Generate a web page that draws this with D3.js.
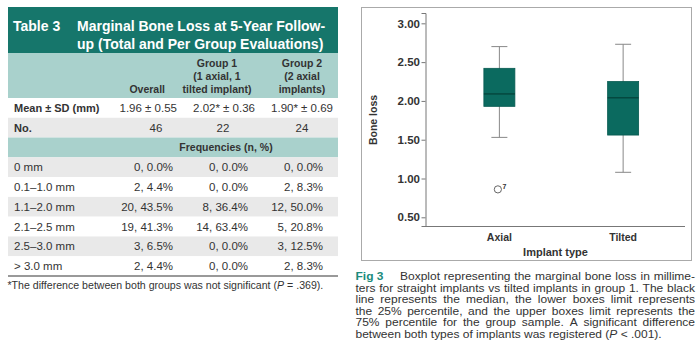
<!DOCTYPE html>
<html>
<head>
<meta charset="utf-8">
<script src="https://cdn.jsdelivr.net/npm/d3@7"></script>
<style>
  body { margin: 0; background: #fff; }
  svg { display: block; font-family: "Liberation Sans", Arial, sans-serif; }
</style>
</head>
<body>
<div id="chart"></div>
<script>
// ---- table data ----
const groupHeaders = [["Overall"], ["Group 1", "(1 axial, 1", "tilted implant)"], ["Group 2", "(2 axial", "implants)"]];
const meanSD = ["1.96 ± 0.55", "2.02* ± 0.36", "1.90* ± 0.69"];
const counts = ["46", "22", "24"];
const freqLabels = ["0 mm", "0.1–1.0 mm", "1.1–2.0 mm", "2.1–2.5 mm", "2.5–3.0 mm", "> 3.0 mm"];
const freqOverall = ["0, 0.0%", "2, 4.4%", "20, 43.5%", "19, 41.3%", "3, 6.5%", "2, 4.4%"];
const freqGroup1 = ["0, 0.0%", "0, 0.0%", "8, 36.4%", "14, 63.4%", "0, 0.0%", "0, 0.0%"];
const freqGroup2 = ["0, 0.0%", "2, 8.3%", "12, 50.0%", "5, 20.8%", "3, 12.5%", "2, 8.3%"];

// ---- boxplot data ----
const implantTypes = ["Axial", "Tilted"];
const whiskerLow = [1.53, 1.08];
const q1 = [1.93, 1.56];
const medians = [2.09, 2.04];
const q3 = [2.42, 2.25];
const whiskerHigh = [2.70, 2.73];
const outliers = [{ type: "Axial", value: 0.86, label: "7" }];
const yTicks = [0.5, 1.0, 1.5, 2.0, 2.5, 3.0];

const DARK_TEAL = "#16766b";
const LIGHT_TEAL = "#a9d1cc";
const GRAY_ROW = "#e9e9e9";
const BOX_FILL = "#0b6a5f";
const TEXT = "#333";

const svg = d3.select("#chart").append("svg")
    .attr("width", 700)
    .attr("height", 358);

// ================= TABLE =================
const T_LEFT = 8, T_RIGHT = 338;
const table = svg.append("g");

table.append("rect")
    .attr("x", T_LEFT).attr("y", 7)
    .attr("width", T_RIGHT - T_LEFT).attr("height", 46)
    .attr("fill", DARK_TEAL);

table.append("text")
    .attr("x", 13).attr("y", 31)
    .attr("fill", "#fff").attr("font-weight", "bold").attr("font-size", "14px")
    .text("Table 3");
table.append("text")
    .attr("x", 77).attr("y", 31)
    .attr("fill", "#fff").attr("font-weight", "bold").attr("font-size", "14px")
    .text("Marginal Bone Loss at 5-Year Follow-");
table.append("text")
    .attr("x", 77).attr("y", 49)
    .attr("fill", "#fff").attr("font-weight", "bold").attr("font-size", "14px")
    .text("up (Total and Per Group Evaluations)");

table.append("rect")
    .attr("x", T_LEFT).attr("y", 53)
    .attr("width", T_RIGHT - T_LEFT).attr("height", 45)
    .attr("fill", LIGHT_TEAL);

const headerX = [165, 217, 302];
const headerAnchor = ["end", "middle", "middle"];
groupHeaders.forEach((lines, c) => {
    const offset = 3 - lines.length;
    lines.forEach((ln, k) => {
        table.append("text")
            .attr("x", headerX[c])
            .attr("y", 66.5 + (k + offset) * 13.3)
            .attr("text-anchor", headerAnchor[c])
            .attr("font-weight", "bold").attr("font-size", "10.5px")
            .attr("fill", TEXT)
            .text(ln);
    });
});

const rowKeys = ["mean", "no", "freq"].concat(freqLabels);
const rowScale = d3.scaleBand().domain(rowKeys).range([98, 276]);
const rowFill = {
    "mean": "#fff", "no": GRAY_ROW, "freq": LIGHT_TEAL,
    "0 mm": GRAY_ROW, "0.1–1.0 mm": "#fff", "1.1–2.0 mm": GRAY_ROW,
    "2.1–2.5 mm": "#fff", "2.5–3.0 mm": GRAY_ROW, "> 3.0 mm": "#fff"
};

table.selectAll("rect.row")
    .data(rowKeys)
    .enter()
    .append("rect")
    .attr("class", "row")
    .attr("x", T_LEFT)
    .attr("y", d => rowScale(d))
    .attr("width", T_RIGHT - T_LEFT)
    .attr("height", rowScale.bandwidth())
    .attr("fill", d => rowFill[d]);

const baseY = d => rowScale(d) + rowScale.bandwidth() / 2 + 4;

// mean row
table.append("text")
    .attr("x", 14).attr("y", baseY("mean"))
    .attr("font-weight", "bold").attr("font-size", "11px").attr("fill", TEXT)
    .text("Mean ± SD (mm)");
const meanX = [177, 255, 333];
meanSD.forEach((v, c) => {
    table.append("text")
        .attr("x", meanX[c]).attr("y", baseY("mean"))
        .attr("text-anchor", "end").attr("font-size", "11.5px").attr("fill", TEXT)
        .text(v);
});

// No. row
table.append("text")
    .attr("x", 14).attr("y", baseY("no"))
    .attr("font-weight", "bold").attr("font-size", "11px").attr("fill", TEXT)
    .text("No.");
const countX = [156, 223, 302];
counts.forEach((v, c) => {
    table.append("text")
        .attr("x", countX[c]).attr("y", baseY("no"))
        .attr("text-anchor", "middle").attr("font-size", "11.5px").attr("fill", TEXT)
        .text(v);
});

// Frequencies header
table.append("text")
    .attr("x", 226).attr("y", baseY("freq"))
    .attr("text-anchor", "middle")
    .attr("font-weight", "bold").attr("font-size", "10.5px").attr("fill", TEXT)
    .text("Frequencies (n, %)");

const freqX = [173, 248, 323];
const freqCols = [freqOverall, freqGroup1, freqGroup2];
freqLabels.forEach((lab, r) => {
    table.append("text")
        .attr("x", 14).attr("y", baseY(lab))
        .attr("font-size", "11.5px").attr("fill", TEXT)
        .text(lab);
    freqCols.forEach((col, c) => {
        table.append("text")
            .attr("x", freqX[c]).attr("y", baseY(lab))
            .attr("text-anchor", "end").attr("font-size", "11.5px").attr("fill", TEXT)
            .text(col[r]);
    });
});

table.append("line")
    .attr("x1", T_LEFT).attr("x2", T_RIGHT)
    .attr("y1", 276).attr("y2", 276)
    .attr("stroke", "#999").attr("stroke-width", 2);

const foot = table.append("text")
    .attr("x", 7.5).attr("y", 289)
    .attr("font-size", "10.6px").attr("fill", TEXT);
foot.append("tspan").text("*The difference between both groups was not significant (");
foot.append("tspan").attr("font-style", "italic").text("P");
foot.append("tspan").text(" = .369).");

// ================= BOXPLOT =================
svg.append("rect")
    .attr("x", 361.5).attr("y", 7.5)
    .attr("width", 330).attr("height", 253)
    .attr("fill", "none").attr("stroke", "#aaa");

const Y_SCALE = d3.scaleLinear()
    .domain([0.388, 3.133])
    .range([226, 13]);
const X_SCALE = d3.scalePoint()
    .domain(implantTypes)
    .range([437.5, 685])
    .padding(0.5);

const yAxis = d3.axisLeft(Y_SCALE)
    .tickValues(yTicks)
    .tickFormat(d3.format(".2f"))
    .tickSizeOuter(0)
    .tickSize(4)
    .tickPadding(1.5);

const yG = svg.append("g")
    .attr("transform", "translate(425.5,0)")
    .call(yAxis);
yG.select(".domain").attr("stroke", "#777");
yG.selectAll(".tick line").attr("stroke", "#777");
yG.selectAll(".tick text")
    .attr("font-family", "Liberation Sans, Arial, sans-serif")
    .attr("font-size", "11.5px").attr("font-weight", "bold").attr("fill", TEXT);

svg.append("line")
    .attr("x1", 425.5).attr("x2", 685)
    .attr("y1", Y_SCALE(0.388) + 0.5).attr("y2", Y_SCALE(0.388) + 0.5)
    .attr("stroke", "#777");

const BOX_W = 31, CAP_W = 16;
const boxes = svg.append("g");
implantTypes.forEach((t, i) => {
    const cx = X_SCALE(t);
    boxes.append("line")
        .attr("x1", cx).attr("x2", cx)
        .attr("y1", Y_SCALE(whiskerHigh[i])).attr("y2", Y_SCALE(whiskerLow[i]))
        .attr("stroke", "#888");
    [whiskerHigh[i], whiskerLow[i]].forEach(v => {
        boxes.append("line")
            .attr("x1", cx - CAP_W / 2).attr("x2", cx + CAP_W / 2)
            .attr("y1", Y_SCALE(v)).attr("y2", Y_SCALE(v))
            .attr("stroke", "#888");
    });
    boxes.append("rect")
        .attr("x", cx - BOX_W / 2)
        .attr("y", Y_SCALE(q3[i]))
        .attr("width", BOX_W)
        .attr("height", Y_SCALE(q1[i]) - Y_SCALE(q3[i]))
        .attr("fill", BOX_FILL)
        .attr("stroke", "#075a50").attr("stroke-width", 0.8);
    boxes.append("line")
        .attr("x1", cx - BOX_W / 2).attr("x2", cx + BOX_W / 2)
        .attr("y1", Y_SCALE(medians[i])).attr("y2", Y_SCALE(medians[i]))
        .attr("stroke", "#033f38").attr("stroke-width", 1.2);
});

outliers.forEach(o => {
    boxes.append("circle")
        .attr("cx", X_SCALE(o.type) - 1.5)
        .attr("cy", Y_SCALE(o.value))
        .attr("r", 3.6)
        .attr("fill", "#fff").attr("stroke", "#555").attr("stroke-width", 0.9);
    boxes.append("text")
        .attr("x", X_SCALE(o.type) + 3).attr("y", Y_SCALE(o.value) - 0.5)
        .attr("font-size", "7px").attr("font-weight", "bold").attr("fill", TEXT)
        .text(o.label);
});

svg.selectAll("text.cat")
    .data(implantTypes)
    .enter()
    .append("text")
    .attr("class", "cat")
    .attr("x", d => X_SCALE(d))
    .attr("y", 240.5)
    .attr("text-anchor", "middle")
    .attr("font-size", "10.5px").attr("font-weight", "bold").attr("fill", TEXT)
    .text(d => d);

svg.append("text")
    .attr("x", 555.5).attr("y", 256)
    .attr("text-anchor", "middle")
    .attr("font-size", "11px").attr("font-weight", "bold").attr("fill", TEXT)
    .text("Implant type");

svg.append("text")
    .attr("transform", "translate(377,120) rotate(-90)")
    .attr("text-anchor", "middle")
    .attr("font-size", "10.5px").attr("font-weight", "bold").attr("fill", TEXT)
    .text("Bone loss");

// ================= CAPTION =================
// the printed caption face is wide, so a 10px font is stretched sideways
const capLines = [
    "Boxplot representing the marginal bone loss in millime-",
    "ters for straight implants vs tilted implants in group 1. The black",
    "line represents the median, the lower boxes limit represents",
    "the 25% percentile, and the upper boxes limit represents the",
    "75% percentile for the group sample. A significant difference"
];
const CAP_L = 355.5, CAP_R = 695, CAP_Y0 = 280, CAP_DY = 11.6, STRETCH = 1.2;
const cap = svg.append("g")
    .attr("transform", `translate(${CAP_L},0) scale(${STRETCH},1)`)
    .attr("font-size", "10px").attr("fill", TEXT);
const capW = (CAP_R - CAP_L) / STRETCH;

cap.append("text")
    .attr("x", 0).attr("y", CAP_Y0)
    .attr("font-weight", "bold").attr("fill", "#1b8b7c")
    .text("Fig 3");

function justify(line, x0, x1, y) {
    const words = line.split(" ");
    const nodes = words.map(w => cap.append("text").attr("y", y).text(w));
    const widths = nodes.map(n => n.node().getComputedTextLength());
    const gap = (x1 - x0 - d3.sum(widths)) / (words.length - 1);
    let x = x0;
    nodes.forEach((n, i) => {
        n.attr("x", x);
        x += widths[i] + gap;
    });
}

capLines.forEach((ln, i) => {
    justify(ln, i === 0 ? (400 - CAP_L) / STRETCH : 0, capW, CAP_Y0 + i * CAP_DY);
});

const last = cap.append("text")
    .attr("x", 0).attr("y", CAP_Y0 + 5 * CAP_DY);
last.append("tspan").text("between both types of implants was registered (");
last.append("tspan").attr("font-style", "italic").text("P");
last.append("tspan").text(" < .001).");
</script>
</body>
</html>
